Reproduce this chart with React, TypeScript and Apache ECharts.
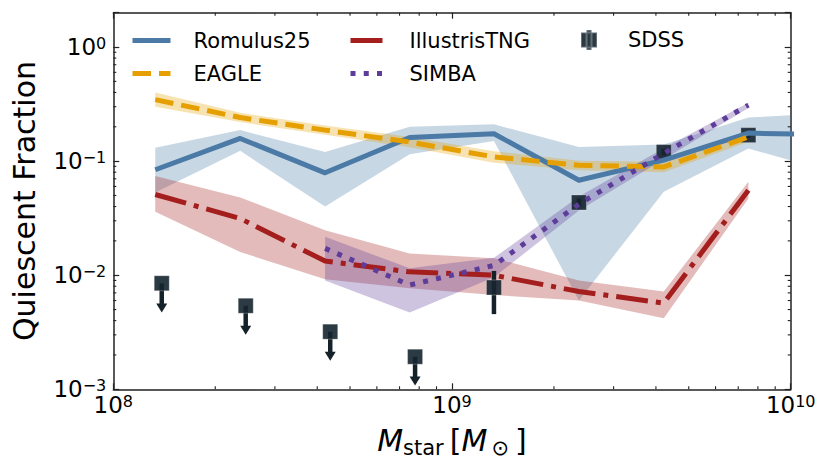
import React, { useEffect, useRef } from 'react';
import * as echarts from 'echarts';

const FONT = 'DejaVu Sans';

// stellar-mass bin centres (Msun)
const binMass = [1.33e8, 2.37e8, 4.22e8, 7.5e8, 1.33e9, 2.37e9, 4.22e9, 7.5e9, 1.33e10];
const eagleMass = [1.33e8, 2.37e8, 4.22e8, 7.5e8, 1.33e9, 2.37e9, 4.22e9, 7.5e9];
const simbaMass = [4.22e8, 7.5e8, 1.33e9, 2.37e9, 4.22e9, 7.5e9];

// Romulus25
const romulus = [0.084, 0.158, 0.079, 0.161, 0.174, 0.068, 0.102, 0.176, 0.17];
const romulusLo = [0.053, 0.123, 0.04, 0.115, 0.15, 0.006, 0.054, 0.129, 0.08];
const romulusHi = [0.131, 0.187, 0.12, 0.2, 0.21, 0.133, 0.14, 0.241, 0.264];

// EAGLE
const eagle = [0.346, 0.241, 0.187, 0.147, 0.109, 0.092, 0.089, 0.163];
const eagleLo = [0.3, 0.22, 0.17, 0.132, 0.097, 0.083, 0.08, 0.148];
const eagleHi = [0.4, 0.265, 0.205, 0.163, 0.122, 0.101, 0.099, 0.18];

// IllustrisTNG
const tng = [0.051, 0.0314, 0.0133, 0.0107, 0.01, 0.0072, 0.0057, 0.0556];
const tngLo = [0.036, 0.016, 0.0092, 0.0077, 0.0067, 0.006, 0.0042, 0.047];
const tngHi = [0.074, 0.048, 0.0248, 0.0155, 0.0141, 0.009, 0.0072, 0.066];

// SIMBA
const simba = [0.0172, 0.0082, 0.0122, 0.042, 0.117, 0.31];
const simbaLo = [0.009, 0.0047, 0.0096, 0.037, 0.104, 0.292];
const simbaHi = [0.0217, 0.0115, 0.0142, 0.049, 0.13, 0.325];

// SDSS observations
const sdssMass = [1.39e8, 2.46e8, 4.37e8, 7.78e8, 1.33e9, 2.37e9, 4.22e9, 7.5e9];
const sdss = [0.0085, 0.0054, 0.0032, 0.00193, 0.0078, 0.0434, 0.12, 0.169];
const sdssLo = [0.0047, 0.003, 0.00178, 0.00108, 0.00456, 0.04, 0.112, 0.16];
const sdssHi = [0.0085, 0.0054, 0.0032, 0.00193, 0.0109, 0.047, 0.128, 0.178];
const sdssUpperLimit = [true, true, true, true, false, false, false, false];

// axis ranges and minor-tick multipliers
const xRange = [1e8, 1e10];
const yRange = [1e-3, 2];
const xMinorDecades = [8, 9];
const yMinorDecades = [-3, -2, -1, 0];
const minorMultipliers = [2, 3, 4, 5, 6, 7, 8, 9];

const zip = (xs: number[], ys: number[]) => xs.map((x, i) => [x, ys[i]]);

const expLabel = (v: number) => {
  const e = Math.log10(v);
  const r = Math.round(e);
  if (Math.abs(e - r) > 1e-6) return '';
  return `{b|10}{s|${r < 0 ? '\u2212' + -r : r}}`;
};

const labelRich = {
  b: { fontSize: 23, lineHeight: 24, fontFamily: FONT, color: '#000' },
  s: { fontSize: 16, lineHeight: 14, verticalAlign: 'top', fontFamily: FONT, color: '#000' },
};

function bandSeries(xs: number[], lo: number[], hi: number[], fill: string) {
  return {
    type: 'custom',
    silent: true,
    clip: true,
    data: [[xs[0], lo[0]]],
    renderItem: (params: any, api: any) => {
      const pts: number[][] = [];
      for (let i = 0; i < xs.length; i++) pts.push(api.coord([xs[i], hi[i]]));
      for (let i = xs.length - 1; i >= 0; i--) pts.push(api.coord([xs[i], lo[i]]));
      const cs = params.coordSys;
      return {
        type: 'group',
        clipPath: { type: 'rect', shape: { x: cs.x, y: cs.y, width: cs.width, height: cs.height } },
        children: [{ type: 'polygon', shape: { points: pts }, style: { fill, stroke: 'none' } }],
      };
    },
  };
}

function lineSeries(name: string, xs: number[], ys: number[], color: string, type: any) {
  return {
    type: 'line',
    name,
    data: zip(xs, ys),
    symbol: 'none',
    clip: true,
    itemStyle: { color },
    lineStyle: { color, width: 5, type, join: 'round', cap: 'butt' },
  };
}

const axisLineStyle = { color: '#222', width: 1.5 };
const tickStyle = { color: '#222', width: 1.2 };
const legendText = { fontSize: 21, fontFamily: FONT, color: '#000' };
const hiddenSymbol = { color: 'transparent', borderColor: 'transparent', borderWidth: 0, opacity: 0 };

export default function App() {
  const ref = useRef<HTMLDivElement>(null);
  useEffect(() => {
    if (!ref.current) return;
    const chart = echarts.init(ref.current, null, { renderer: 'svg' });
    const option: any = {
      animation: false,
      backgroundColor: '#fff',
      grid: { left: 113.3, right: 40.3, top: 12.7, bottom: 81.7, containLabel: false },
      legend: [
        {
          left: 130, top: 30, padding: 0, orient: 'vertical', selectedMode: false,
          data: ['Romulus25', 'EAGLE'],
          itemWidth: 38, itemHeight: 14, itemGap: 12,
          lineStyle: { width: 5 },
          itemStyle: hiddenSymbol,
          textStyle: { ...legendText, padding: [0, 0, 0, 18] },
        },
        {
          left: 348, top: 30, padding: 0, orient: 'vertical', selectedMode: false,
          data: ['IllustrisTNG', 'SIMBA'],
          itemWidth: 38, itemHeight: 14, itemGap: 12,
          lineStyle: { width: 5 },
          itemStyle: hiddenSymbol,
          textStyle: { ...legendText, padding: [0, 0, 0, 16] },
        },
        {
          left: 580, top: 29, padding: 0, orient: 'vertical', selectedMode: false,
          data: [{ name: 'SDSS', icon: 'path://M0,2.5L16,2.5L16,17.5L0,17.5Z M5.5,0L10.5,0L10.5,20L5.5,20Z' }],
          itemWidth: 16, itemHeight: 20,
          textStyle: { ...legendText, padding: [0, 0, 0, 26] },
        },
      ],
      xAxis: [
        {
          type: 'log', logBase: 10, min: xRange[0], max: xRange[1], position: 'bottom',
          axisLine: { show: true, onZero: false, lineStyle: axisLineStyle },
          axisTick: { show: true, inside: true, length: 6, lineStyle: tickStyle },
          axisLabel: { formatter: expLabel, rich: labelRich, margin: 4, showMinLabel: true, showMaxLabel: true },
          splitLine: { show: false },
          name: '{i|M}{sub|star}{n|\u2009[}{i|M}{sub|\u2009\u2299}{n|\u2009]}',
          nameLocation: 'middle', nameGap: 33,
          nameTextStyle: {
            fontFamily: FONT, fontSize: 30, color: '#000',
            rich: {
              i: { fontSize: 30, fontStyle: 'italic', lineHeight: 36, fontFamily: FONT, color: '#000' },
              sub: { fontSize: 21, lineHeight: 21, verticalAlign: 'bottom', fontFamily: FONT, color: '#000' },
              n: { fontSize: 30, lineHeight: 36, fontFamily: FONT, color: '#000' },
            },
          },
        },
        {
          type: 'log', logBase: 10, min: xRange[0], max: xRange[1], position: 'top',
          axisLine: { show: true, onZero: false, lineStyle: axisLineStyle },
          axisTick: { show: true, inside: true, length: 6, lineStyle: tickStyle },
          axisLabel: { show: false },
          splitLine: { show: false },
        },
      ],
      yAxis: [
        {
          type: 'log', logBase: 10, min: yRange[0], max: yRange[1], position: 'left',
          axisLine: { show: true, onZero: false, lineStyle: axisLineStyle },
          axisTick: { show: true, inside: true, length: 6, lineStyle: tickStyle },
          axisLabel: { formatter: expLabel, rich: labelRich, margin: 7, showMinLabel: true },
          splitLine: { show: false },
          name: 'Quiescent Fraction', nameLocation: 'middle', nameGap: 74,
          nameTextStyle: { fontFamily: FONT, fontSize: 30, color: '#000' },
        },
        {
          type: 'log', logBase: 10, min: yRange[0], max: yRange[1], position: 'right',
          axisLine: { show: true, onZero: false, lineStyle: axisLineStyle },
          axisTick: { show: true, inside: true, length: 6, lineStyle: tickStyle },
          axisLabel: { show: false },
          splitLine: { show: false },
        },
      ],
      series: [
        bandSeries(binMass, romulusLo, romulusHi, 'rgba(74,122,165,0.3)'),
        lineSeries('Romulus25', binMass, romulus, '#4a7aa5', 'solid'),
        bandSeries(eagleMass, eagleLo, eagleHi, 'rgba(230,159,0,0.3)'),
        lineSeries('EAGLE', eagleMass, eagle, '#e69f00', [18.5, 8]),
        bandSeries(eagleMass, tngLo, tngHi, 'rgba(164,30,30,0.3)'),
        lineSeries('IllustrisTNG', eagleMass, tng, '#a41e1e', [32, 8, 5, 8]),
        bandSeries(simbaMass, simbaLo, simbaHi, 'rgba(94,60,153,0.3)'),
        lineSeries('SIMBA', simbaMass, simba, '#5e3c99', [5, 8.25]),
        {
          type: 'custom',
          silent: true,
          data: zip(sdssMass, sdss),
          renderItem: (params: any, api: any) => {
            const i = params.dataIndex;
            const c = api.coord([sdssMass[i], sdss[i]]);
            const lo = api.coord([sdssMass[i], sdssLo[i]]);
            const hi = api.coord([sdssMass[i], sdssHi[i]]);
            const col = '#15222a';
            const children: any[] = [];
            if (sdssUpperLimit[i]) {
              const head = 9;
              children.push({
                type: 'rect',
                shape: { x: c[0] - 2.25, y: c[1], width: 4.5, height: lo[1] - head - c[1] + 1 },
                style: { fill: col },
              });
              children.push({
                type: 'polygon',
                shape: { points: [[c[0] - 5.5, lo[1] - head], [c[0] + 5.5, lo[1] - head], [c[0], lo[1]]] },
                style: { fill: col },
              });
            } else {
              children.push({
                type: 'rect',
                shape: { x: c[0] - 2.25, y: hi[1], width: 4.5, height: lo[1] - hi[1] },
                style: { fill: col },
              });
            }
            return { type: 'group', children };
          },
        },
        {
          type: 'scatter',
          name: 'SDSS',
          data: zip(sdssMass, sdss),
          symbol: 'rect',
          symbolSize: 15,
          itemStyle: { color: '#152530', opacity: 0.9, borderColor: 'rgba(255,255,255,0.3)', borderWidth: 1 },
        },
        {
          type: 'custom',
          silent: true,
          data: [[1e9, 0.01]],
          renderItem: (params: any, api: any) => {
            const cs = params.coordSys;
            const children: any[] = [];
            const len = 3;
            const st = { stroke: '#222', lineWidth: 1.1 };
            xMinorDecades.forEach((d) =>
              minorMultipliers.forEach((k) => {
                const v = k * Math.pow(10, d);
                const px = api.coord([v, 0.01])[0];
                children.push({ type: 'line', shape: { x1: px, y1: cs.y + cs.height, x2: px, y2: cs.y + cs.height - len }, style: st });
                children.push({ type: 'line', shape: { x1: px, y1: cs.y, x2: px, y2: cs.y + len }, style: st });
              })
            );
            yMinorDecades.forEach((d) =>
              minorMultipliers.forEach((k) => {
                const v = k * Math.pow(10, d);
                if (v >= yRange[1]) return;
                const py = api.coord([1e9, v])[1];
                children.push({ type: 'line', shape: { x1: cs.x, y1: py, x2: cs.x + len, y2: py }, style: st });
                children.push({ type: 'line', shape: { x1: cs.x + cs.width, y1: py, x2: cs.x + cs.width - len, y2: py }, style: st });
              })
            );
            return { type: 'group', children };
          },
        },
      ],
    };
    chart.setOption(option);
    return () => chart.dispose();
  }, []);
  return (
    <div
      ref={ref}
      style={{ position: 'fixed', left: 0, top: 0, width: 831, height: 471, background: '#fff' }}
    />
  );
}
